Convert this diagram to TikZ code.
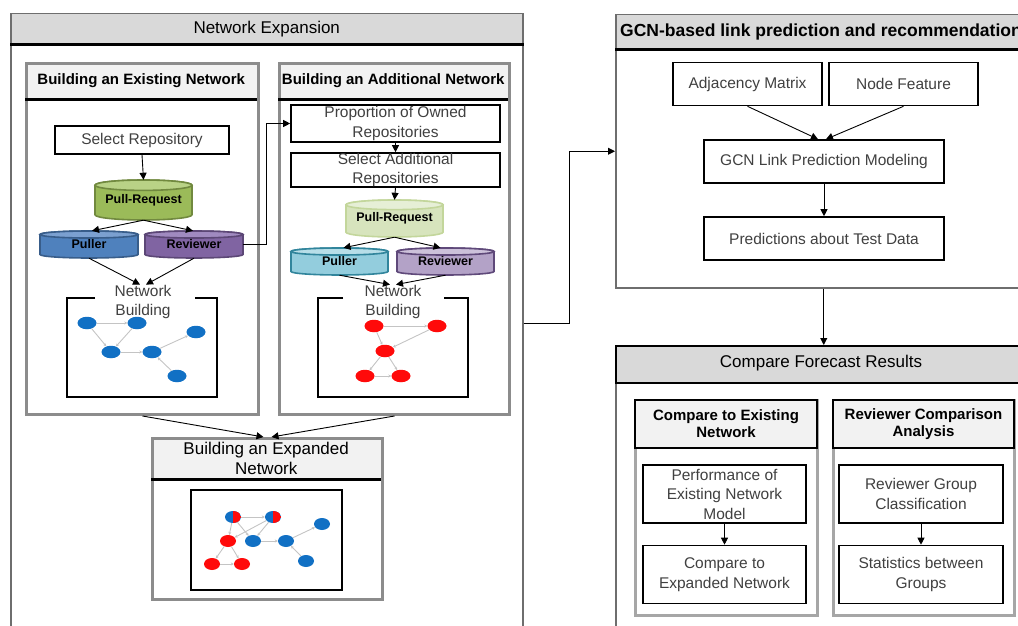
\documentclass[tikz,border=0pt]{standalone}
\usepackage{fontspec}
\setmainfont{Liberation Sans}
\usetikzlibrary{shapes.geometric,arrows.meta,calc}
\definecolor{hdrdark}{HTML}{D9D9D9}
\definecolor{hdrlight}{HTML}{F2F2F2}
\definecolor{framegray}{HTML}{8C8C8C}
\definecolor{subgray}{HTML}{A6A6A6}
\definecolor{outergray}{HTML}{6E6E6E}
\definecolor{txt}{HTML}{404040}
\definecolor{nblue}{HTML}{1170C4}
\definecolor{nred}{HTML}{FF0A0A}
\definecolor{edgegray}{HTML}{C4C4C4}
\definecolor{grA}{HTML}{9BBB59}\definecolor{grAt}{HTML}{B9D286}\definecolor{grAb}{HTML}{71893F}
\definecolor{blA}{HTML}{4F81BD}\definecolor{blAt}{HTML}{7BA0D0}\definecolor{blAb}{HTML}{385D8A}
\definecolor{puA}{HTML}{8064A2}\definecolor{puAt}{HTML}{A08AC0}\definecolor{puAb}{HTML}{5C4776}
\definecolor{grB}{HTML}{D7E4BD}\definecolor{grBt}{HTML}{E6EFD6}\definecolor{grBb}{HTML}{C3D69B}
\definecolor{blB}{HTML}{93CDDD}\definecolor{blBt}{HTML}{B7DEE8}\definecolor{blBb}{HTML}{31859C}
\definecolor{puB}{HTML}{B3A2C7}\definecolor{puBt}{HTML}{CCC1DA}\definecolor{puBb}{HTML}{5F497A}
\newcommand\dbcyl[9]{%
  \pgfmathsetmacro\cylrx{#4/2}%
  \pgfmathsetmacro\cylry{0.13*#5}%
  \pgfmathsetmacro\cylL{#2-#4/2}%
  \pgfmathsetmacro\cylR{#2+#4/2}%
  \pgfmathsetmacro\cylT{#3-#5/2+\cylry}%
  \pgfmathsetmacro\cylB{#3+#5/2-\cylry}%
  \filldraw[fill=#6,draw=#8,line width=1.6pt] (\cylL,\cylT) -- (\cylL,\cylB)
    arc[start angle=180,end angle=360,x radius=\cylrx pt,y radius=\cylry pt] -- (\cylR,\cylT)
    arc[start angle=0,end angle=180,x radius=\cylrx pt,y radius=\cylry pt] -- cycle;
  \filldraw[fill=#7,draw=#8,line width=1.6pt] (#2,\cylT) ellipse[x radius=\cylrx pt,y radius=\cylry pt];
  \node[cyltext,minimum width=#4pt,minimum height=#5pt] (#1) at (#2,#3) {\raisebox{-2pt}{#9}};
}
\begin{document}
\begin{tikzpicture}[x=1pt,y=-1pt,
  frame/.style={draw=framegray,line width=3pt,inner sep=0,anchor=north west},
  bigframe/.style={draw=outergray,line width=1.5pt,inner sep=0,anchor=north west},
  hdr/.style={inner sep=0,anchor=north west,text=black,align=center},
  hline/.style={line width=2.5pt,black},
  box/.style={draw=black,line width=1.6pt,fill=white,inner sep=0,align=center,text=txt,
    font=\fontsize{15.5}{19.5}\selectfont},
  cyltext/.style={inner sep=0,font=\bfseries\fontsize{12.5}{14}\selectfont,text=black},
  nbtext/.style={inner sep=0,align=center,text=txt,font=\fontsize{15.5}{19}\selectfont},
  arr/.style={-{Triangle[length=7pt,width=7pt]},line width=0.9pt,black},
  gn/.style={ellipse,inner sep=0,minimum width=19pt,minimum height=12.5pt},
  gs/.style={ellipse,inner sep=0,minimum width=16pt,minimum height=12pt},
  bn/.style={fill=nblue},
  rn/.style={fill=nred},
  hn/.style={fill=nblue,path picture={\fill[nred] (path picture bounding box.north) rectangle (path picture bounding box.south east);}},
  ge/.style={draw=edgegray,line width=0.9pt,-{Stealth[length=3pt,width=3pt]}},
  bracket/.style={line width=2pt,black}
]
\useasboundingbox (0,0) rectangle (1018,626);
\clip (0,0) rectangle (1018,626);

% ================= Network Expansion =================
\node[hdr,fill=hdrdark,draw=outergray,line width=1.5pt,minimum width=512pt,minimum height=30pt,
  font=\fontsize{17}{20}\selectfont] (neh) at (10,13) {Network Expansion};
\node[bigframe,minimum width=512pt,minimum height=620pt] (ne) at (10,13) {};
\draw[hline] (neh.south west) -- (neh.south east);

% --- Building an Existing Network
\node[hdr,fill=hdrlight,minimum width=232pt,minimum height=37pt,
  font=\bfseries\fontsize{15}{18}\selectfont] (exh) at (25,62) {Building an Existing Network};
\node[frame,minimum width=232pt,minimum height=351pt] (exist) at (25,62) {};
\draw[hline] (exh.south west) -- (exh.south east);

\node[box,minimum width=174pt,minimum height=28pt] (sel) at (142,140) {Select Repository};
\dbcyl{pull1}{143.5}{200}{97}{40}{grA}{grAt}{grAb}{Pull-Request}
\dbcyl{pul1}{89}{244.5}{98}{27}{blA}{blAt}{blAb}{Puller}
\dbcyl{rev1}{194}{244.5}{98}{27}{puA}{puAt}{puAb}{Reviewer}
\node[nbtext] (nb1) at (143,301.5) {Network\\Building};
\draw[bracket] (95,298) -- (67,298) -- (67,397) -- (217,397) -- (217,298) -- (195,298);

\node[gn,bn] (n1) at (87,323) {};
\node[gn,bn] (n2) at (137,323) {};
\node[gn,bn] (n3) at (111,352) {};
\node[gn,bn] (n4) at (152,352) {};
\node[gn,bn] (n5) at (196,332) {};
\node[gn,bn] (n6) at (177,376) {};
\draw[ge] (n1) -- (n2);
\draw[ge] (n1) -- (n3);
\draw[ge] (n2) -- (n3);
\draw[ge] (n3) -- (n4);
\draw[ge] (n4) -- (n5);
\draw[ge] (n6) -- (n4);

% --- Building an Additional Network
\node[hdr,fill=hdrlight,minimum width=230pt,minimum height=37pt,
  font=\bfseries\fontsize{15}{18}\selectfont] (adh) at (278,62) {Building an Additional Network};
\node[frame,minimum width=230pt,minimum height=351pt] (addn) at (278,62) {};
\draw[hline] (adh.south west) -- (adh.south east);

\node[box,minimum width=209pt,minimum height=37pt] (prop) at (395.5,123.5) {Proportion of Owned\\Repositories};
\node[box,minimum width=209pt,minimum height=34pt] (seladd) at (395.5,170) {Select Additional\\Repositories};
\dbcyl{pull2}{394.5}{218.5}{97}{37}{grB}{grBt}{grBb}{Pull-Request}
\dbcyl{pul2}{339.5}{261.5}{97}{27}{blB}{blBt}{blBb}{Puller}
\dbcyl{rev2}{445.5}{261.5}{97}{27}{puB}{puBt}{puBb}{Reviewer}
\node[nbtext] (nb2) at (393,301.5) {Network\\Building};
\draw[bracket] (343,298) -- (318,298) -- (318,397) -- (468,397) -- (468,298) -- (444,298);

\node[gn,rn] (r1) at (374,326) {};
\node[gn,rn] (r2) at (437,326) {};
\node[gn,rn] (r3) at (385,351) {};
\node[gn,rn] (r4) at (365,376) {};
\node[gn,rn] (r5) at (401,376) {};
\draw[ge] (r1) -- (r2);
\draw[ge] (r1) -- (r3);
\draw[ge] (r2) -- (r3);
\draw[ge] (r3) -- (r4);
\draw[ge] (r3) -- (r5);
\draw[ge] (r4) -- (r5);

% --- Building an Expanded Network
\node[hdr,fill=hdrlight,minimum width=230pt,minimum height=42pt,
  font=\fontsize{17}{20}\selectfont] (eph) at (151,437) {Building an Expanded\\Network};
\node[frame,minimum width=230pt,minimum height=161pt] (exp) at (151,437) {};
\draw[hline] (eph.south west) -- (eph.south east);
\draw[line width=2pt,black] (191,490) rectangle (342,590);

\node[gs,hn] (e1) at (233,517) {};
\node[gs,hn] (e2) at (273,517) {};
\node[gs,rn] (e3) at (228,541) {};
\node[gs,bn] (e4) at (253,541) {};
\node[gs,bn] (e5) at (286,541) {};
\node[gs,bn] (e6) at (322,524) {};
\node[gs,rn] (e7) at (212,564) {};
\node[gs,rn] (e8) at (242,564) {};
\node[gs,bn] (e9) at (306,561) {};
\draw[ge] (e1) -- (e2);
\draw[ge] (e1) -- (e3);
\draw[ge] (e2) -- (e3);
\draw[ge] (e1) -- (e4);
\draw[ge] (e2) -- (e4);
\draw[ge] (e4) -- (e5);
\draw[ge] (e5) -- (e6);
\draw[ge] (e9) -- (e5);
\draw[ge] (e3) -- (e7);
\draw[ge] (e3) -- (e8);
\draw[ge] (e7) -- (e8);

% ================= GCN =================
\node[hdr,fill=hdrdark,draw=outergray,line width=1.5pt,minimum width=416pt,minimum height=34pt] (gch) at (615,14) {};
\node[bigframe,minimum width=416pt,minimum height=273pt] (gcn) at (615,14) {};
\draw[hline] (gch.south west) -- (gch.south east);
\node[inner sep=0,anchor=west,font=\bfseries\fontsize{17.5}{20}\selectfont] (gct) at (620,31.5) {GCN-based link prediction and recommendation};

\node[box,minimum width=149pt,minimum height=43pt] (adj) at (747.5,84) {Adjacency Matrix};
\node[box,minimum width=149pt,minimum height=43pt] (nf) at (903.5,84) {Node Feature};
\node[box,minimum width=240pt,minimum height=43pt] (gcnm) at (824,161.5) {GCN Link Prediction Modeling};
\node[box,minimum width=240pt,minimum height=43pt] (pred) at (824,238.5) {Predictions about Test Data};

% ================= Compare Forecast Results =================
\node[bigframe,minimum width=416pt,minimum height=290pt] (cfr) at (615,345) {};
\node[hdr,fill=hdrdark,draw=black,line width=2pt,minimum width=416pt,minimum height=37pt] (cfh) at (615,345) {};
\node[inner sep=0,font=\fontsize{17}{20}\selectfont] (cft) at (821,363.5) {Compare Forecast Results};

\node[frame,draw=subgray,minimum width=182pt,minimum height=215pt] (cte) at (634,399) {};
\node[hdr,fill=hdrlight,draw=black,line width=2pt,minimum width=182pt,minimum height=48pt,
  font=\bfseries\fontsize{15}{17}\selectfont] (cteh) at (634,399) {Compare to Existing\\Network};
\node[frame,draw=subgray,minimum width=181pt,minimum height=215pt] (rca) at (832,399) {};
\node[hdr,fill=hdrlight,draw=black,line width=2pt,minimum width=181pt,minimum height=48pt,
  font=\bfseries\fontsize{15}{17}\selectfont] (rcah) at (832,399) {Reviewer Comparison\\Analysis};

\node[box,minimum width=163pt,minimum height=58pt] (perf) at (724.5,494) {Performance of\\Existing Network\\Model};
\node[box,minimum width=163pt,minimum height=58pt] (cexp) at (724.5,574.5) {Compare to\\Expanded Network};
\node[box,minimum width=164pt,minimum height=58pt] (rgc) at (921,494) {Reviewer Group\\Classification};
\node[box,minimum width=164pt,minimum height=58pt] (stat) at (921,574.5) {Statistics between\\Groups};

% ================= Connectors =================
\draw[arr] (sel.south) -- (pull1.north);
\draw[arr] (pull1.south) -- ([xshift=3pt]pul1.north);
\draw[arr] (pull1.south) -- ([xshift=-1pt]rev1.north);
\draw[arr] (pul1.south) -- ([xshift=-3pt]nb1.north);
\draw[arr] (rev1.south) -- ([xshift=3pt]nb1.north);
\draw[arr] (rev1.east) -- ++(23,0) |- (prop.west);
\draw[arr] (prop.south) -- (seladd.north);
\draw[arr] (seladd.south) -- (pull2.north);
\draw[arr] (pull2.south) -- ([xshift=4pt]pul2.north);
\draw[arr] (pull2.south) -- ([xshift=-5pt]rev2.north);
\draw[arr] (pul2.south) -- ([xshift=-3pt]nb2.north);
\draw[arr] (rev2.south) -- ([xshift=3pt]nb2.north);
\draw[arr] (exist.south) -- ([xshift=-4pt]exp.north);
\draw[arr] (addn.south) -- ([xshift=4pt]exp.north);
\draw[arr] (ne.east) -- ++(46,0) |- (gcn.west);
\draw[arr] (adj.south) -- ([xshift=-6pt]gcnm.north);
\draw[arr] (nf.south) -- ([xshift=2pt]gcnm.north);
\draw[arr] (gcnm.south) -- (pred.north);
\draw[arr] (gcn.south) -- (cfr.north);
\draw[arr] (perf.south) -- (cexp.north);
\draw[arr] (rgc.south) -- (stat.north);
\end{tikzpicture}
\end{document}
